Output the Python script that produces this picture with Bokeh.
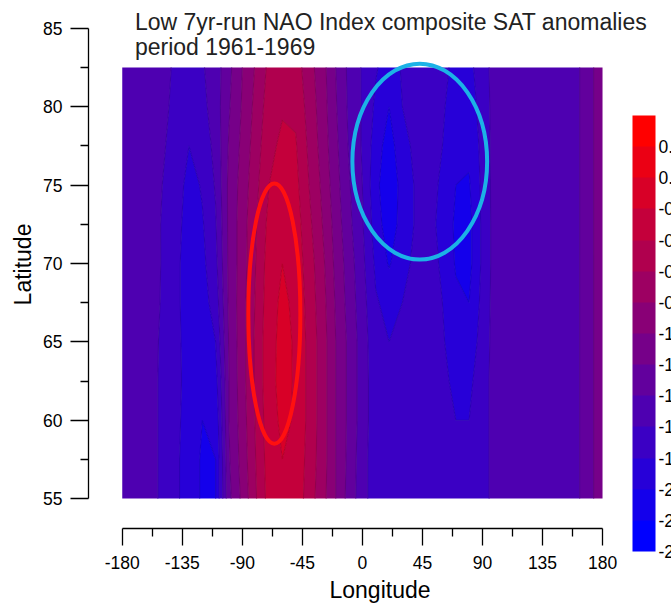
import numpy as np
from bokeh.plotting import figure
from bokeh.models import (Range1d, FixedTicker, Label, ColorBar, LinearColorMapper,
                          PrintfTickFormatter, AllLabels)
from bokeh.embed import file_html
from bokeh.resources import INLINE

# ---------------- data ----------------
lons = [-180, -170, -160, -150, -140, -130, -120, -110, -100, -90, -80, -70, -60, -50,
        -40, -30, -20, -10, 0, 10, 20, 30, 40, 50, 60, 70, 80, 90, 100, 110, 120, 130,
        140, 150, 160, 170, 180]
lats = [55, 57.5, 60, 62.5, 65, 67.5, 70, 72.5, 75, 77.5, 80, 82.5]

# SAT anomaly for each longitude column, listed from lat 55 up to lat 82.5
sat_by_lon = [
    [-1.55, -1.55, -1.55, -1.55, -1.55, -1.55, -1.55, -1.55, -1.55, -1.55, -1.55, -1.55],  # -180
    [-1.56, -1.56, -1.56, -1.56, -1.56, -1.56, -1.56, -1.56, -1.56, -1.56, -1.56, -1.56],  # -170
    [-1.56, -1.56, -1.56, -1.56, -1.55, -1.5, -1.45, -1.46, -1.55, -1.56, -1.56, -1.56],  # -160
    [-1.62, -1.62, -1.62, -1.62, -1.62, -1.62, -1.62, -1.62, -1.6, -1.58, -1.56, -1.56],  # -150
    [-1.75, -1.75, -1.74, -1.72, -1.72, -1.72, -1.72, -1.7, -1.68, -1.66, -1.64, -1.62],   # -140
    [-1.92, -1.92, -1.9, -1.9, -1.92, -1.95, -1.95, -1.92, -1.88, -1.8, -1.72, -1.68],     # -130
    [-2.02, -2.02, -2.0, -1.95, -1.9, -1.88, -1.85, -1.82, -1.78, -1.72, -1.66, -1.62],    # -120
    [-2.0, -2.0, -1.95, -1.88, -1.8, -1.72, -1.66, -1.62, -1.58, -1.54, -1.5, -1.5],       # -110
    [-1.25, -1.22, -1.2, -1.2, -1.18, -1.16, -1.15, -1.15, -1.15, -1.18, -1.22, -1.25],    # -100
    [-0.95, -0.92, -0.9, -0.88, -0.88, -0.88, -0.9, -0.9, -0.92, -0.95, -0.98, -1.0],      # -90
    [-0.62, -0.6, -0.58, -0.56, -0.56, -0.58, -0.6, -0.62, -0.66, -0.7, -0.74, -0.78],     # -80
    [-0.32, -0.3, -0.28, -0.26, -0.26, -0.28, -0.3, -0.34, -0.4, -0.45, -0.5, -0.55],      # -70
    [-0.22, -0.2, -0.16, -0.14, -0.15, -0.16, -0.2, -0.24, -0.3, -0.36, -0.42, -0.48],     # -60
    [-0.26, -0.24, -0.22, -0.22, -0.22, -0.24, -0.28, -0.3, -0.34, -0.38, -0.44, -0.5],    # -50
    [-0.5, -0.48, -0.46, -0.46, -0.46, -0.48, -0.5, -0.55, -0.6, -0.64, -0.68, -0.72],     # -40
    [-0.72, -0.7, -0.7, -0.7, -0.7, -0.72, -0.75, -0.8, -0.84, -0.88, -0.9, -0.92],        # -30
    [-1.0, -1.0, -1.0, -1.0, -1.0, -1.02, -1.05, -1.08, -1.12, -1.15, -1.18, -1.2],        # -20
    [-1.28, -1.26, -1.25, -1.25, -1.25, -1.28, -1.3, -1.35, -1.38, -1.42, -1.44, -1.45],   # -10
    [-1.52, -1.52, -1.5, -1.5, -1.5, -1.52, -1.55, -1.58, -1.6, -1.62, -1.62, -1.62],      # 0
    [-1.72, -1.72, -1.72, -1.72, -1.74, -1.78, -1.84, -1.9, -1.94, -1.9, -1.84, -1.78],    # 10
    [-1.74, -1.74, -1.75, -1.76, -1.8, -1.86, -2.02, -2.12, -2.16, -2.1, -2.0, -1.9],      # 20
    [-1.74, -1.74, -1.75, -1.75, -1.76, -1.8, -1.86, -1.92, -1.92, -1.86, -1.8, -1.78],    # 30
    [-1.74, -1.74, -1.74, -1.74, -1.75, -1.76, -1.76, -1.78, -1.78, -1.76, -1.75, -1.75],  # 40
    [-1.74, -1.74, -1.74, -1.74, -1.74, -1.75, -1.75, -1.76, -1.76, -1.75, -1.75, -1.75],  # 50
    [-1.75, -1.75, -1.75, -1.76, -1.78, -1.8, -1.82, -1.84, -1.82, -1.8, -1.78, -1.76],    # 60
    [-1.78, -1.78, -1.8, -1.84, -1.9, -1.96, -2.02, -2.04, -2.0, -1.94, -1.88, -1.84],     # 70
    [-1.78, -1.78, -1.8, -1.84, -1.92, -2.0, -2.06, -2.06, -2.02, -1.96, -1.9, -1.85],     # 80
    [-1.7, -1.7, -1.7, -1.7, -1.72, -1.74, -1.76, -1.76, -1.75, -1.74, -1.72, -1.7],       # 90
    [-1.5, -1.5, -1.5, -1.5, -1.5, -1.5, -1.5, -1.5, -1.5, -1.5, -1.5, -1.5],              # 100
    [-1.5, -1.5, -1.5, -1.5, -1.5, -1.5, -1.5, -1.5, -1.5, -1.5, -1.5, -1.5],              # 110
    [-1.5, -1.5, -1.5, -1.5, -1.5, -1.5, -1.5, -1.5, -1.5, -1.5, -1.5, -1.5],              # 120
    [-1.48, -1.48, -1.48, -1.48, -1.48, -1.48, -1.48, -1.48, -1.48, -1.48, -1.48, -1.48],  # 130
    [-1.5, -1.5, -1.5, -1.5, -1.5, -1.5, -1.5, -1.5, -1.5, -1.5, -1.5, -1.5],              # 140
    [-1.5, -1.5, -1.5, -1.5, -1.5, -1.5, -1.5, -1.5, -1.5, -1.5, -1.5, -1.5],              # 150
    [-1.46, -1.46, -1.46, -1.46, -1.46, -1.46, -1.46, -1.46, -1.46, -1.46, -1.46, -1.46],  # 160
    [-1.25, -1.25, -1.25, -1.25, -1.25, -1.25, -1.25, -1.25, -1.25, -1.25, -1.25, -1.25],  # 170
    [-1.1, -1.1, -1.1, -1.1, -1.1, -1.1, -1.1, -1.1, -1.1, -1.1, -1.1, -1.1],              # 180
]

levels = [-2.4, -2.2, -2.0, -1.8, -1.6, -1.4, -1.2, -1.0, -0.8, -0.6, -0.4, -0.2, 0.0, 0.2, 0.4]
cbar_ticks = [0.2, 0.0, -0.2, -0.4, -0.6, -0.8, -1.0, -1.2, -1.4, -1.6, -1.8, -2.0, -2.2, -2.4]

lon_ticks = [-180, -135, -90, -45, 0, 45, 90, 135, 180]
lon_minor = [-157.5, -112.5, -67.5, -22.5, 22.5, 67.5, 112.5, 157.5]
lat_ticks = [55, 60, 65, 70, 75, 80, 85]
lat_minor = [57.5, 62.5, 67.5, 72.5, 77.5, 82.5]

# highlighted regions (ellipses)
ell_lon = [-66, 43]
ell_lat = [66.8, 76.5]
ell_w = [39, 101]
ell_h = [16.6, 12.5]
ell_colors = ["#ff1010", "#1cb2e6"]

title_lines = ["Low 7yr-run NAO Index composite SAT anomalies", "period 1961-1969"]

palette = ["#0000ff", "#1400eb", "#2700d8", "#3b00c4", "#4e00b1", "#62009d", "#760089",
           "#890076", "#9d0062", "#b0004e", "#c4003b", "#d80027", "#eb0014", "#ff0000"]

FONT = "Liberation Sans"

z = np.array(sat_by_lon).T  # shape (lat, lon)


def _rgb(h):
    return np.array([int(h[1:3], 16), int(h[3:5], 16), int(h[5:7], 16)], dtype=float)


# contour line colours: slightly darkened blend of the two bands they separate
line_cols = []
for i in range(len(levels)):
    a = palette[max(i - 1, 0)]
    b = palette[min(i, len(palette) - 1)]
    c = (_rgb(a) + _rgb(b)) / 2 * 0.88
    line_cols.append("#%02x%02x%02x" % tuple(int(round(v)) for v in c))

p = figure(width=671, height=605,
           x_range=Range1d(-205.3, 231.7), y_range=Range1d(53.09, 86.78),
           output_backend="svg", toolbar_location=None,
           min_border_left=88, min_border_right=0, min_border_top=0, min_border_bottom=75)
p.outline_line_color = None
p.grid.visible = False
p.background_fill_color = "white"
p.border_fill_color = "white"

p.contour(x=lons, y=lats, z=z, levels=levels, fill_color=palette,
          line_color=line_cols, line_width=1.1)

p.ellipse(x=ell_lon, y=ell_lat, width=ell_w, height=ell_h,
          fill_color=None, line_color=ell_colors, line_width=4)

# axes
xa = p.xaxis[0]
xa.ticker = FixedTicker(ticks=lon_ticks, minor_ticks=lon_minor)
xa.bounds = (-180, 180)
xa.axis_label = "Longitude"
xa.major_label_overrides = {t: str(t) for t in lon_ticks}
ya = p.yaxis[0]
ya.ticker = FixedTicker(ticks=lat_ticks, minor_ticks=lat_minor)
ya.bounds = (55, 85)
ya.axis_label = "Latitude"
for ax in (xa, ya):
    ax.axis_line_color = "black"
    ax.axis_line_width = 1.3
    ax.major_tick_line_width = 1.3
    ax.minor_tick_line_width = 1.3
    ax.major_tick_line_color = "black"
    ax.minor_tick_line_color = "black"
    ax.major_tick_in = 0
    ax.minor_tick_in = 0
    ax.minor_tick_out = 8
    ax.major_label_text_font = FONT
    ax.major_label_text_font_size = "17.5px"
    ax.major_label_text_color = "black"
    ax.axis_label_text_font = FONT
    ax.axis_label_text_font_size = "23px"
    ax.axis_label_text_font_style = "normal"
    ax.axis_label_text_color = "black"
xa.major_tick_out = 17
xa.major_label_standoff = 10
xa.axis_label_standoff = 5
ya.major_tick_out = 18
ya.major_label_standoff = 8
ya.axis_label_standoff = 4

# title
p.add_layout(Label(x=-170.5, y=85.44, text=title_lines[0], text_font=FONT,
                   text_font_size="23px", text_color="#222222", text_baseline="alphabetic"))
p.add_layout(Label(x=-170.5, y=83.82, text=title_lines[1], text_font=FONT,
                   text_font_size="23px", text_color="#222222", text_baseline="alphabetic"))

# colour bar
mapper = LinearColorMapper(palette=palette, low=-2.4, high=0.4)
cb = ColorBar(color_mapper=mapper, ticker=FixedTicker(ticks=cbar_ticks),
              formatter=PrintfTickFormatter(format="%.1f"),
              major_label_policy=AllLabels(),
              width=23, height=436, location=(544, -23), padding=0,
              label_standoff=3, major_tick_line_color=None, minor_tick_line_color=None,
              bar_line_color=None, border_line_color=None, background_fill_alpha=0,
              major_label_text_font=FONT, major_label_text_font_size="17.5px",
              major_label_text_color="black")
p.add_layout(cb, "center")

open("out.html", "w").write(file_html(p, INLINE))
